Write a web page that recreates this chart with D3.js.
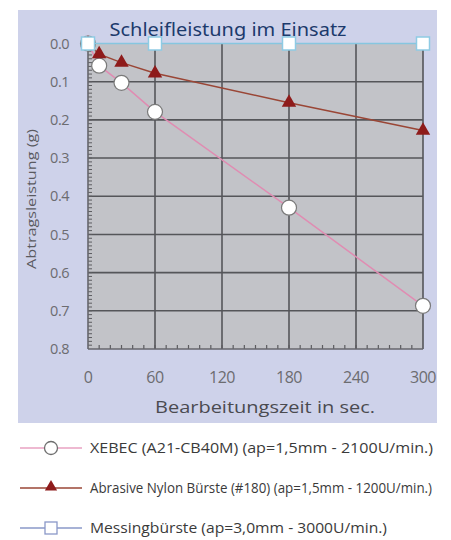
<!DOCTYPE html>
<html>
<head>
<meta charset="utf-8">
<script src="https://cdn.jsdelivr.net/npm/d3@7"></script>
<style>
  html, body { margin: 0; padding: 0; background: #ffffff; }
  svg { display: block; }
</style>
</head>
<body>
<svg id="chart" width="451" height="540"></svg>
<script>
// ---- data ----
const titleText = "Schleifleistung im Einsatz";
const xAxisTitle = "Bearbeitungszeit in sec.";
const yAxisTitle = "Abtragsleistung (g)";
const xTicks = [0, 60, 120, 180, 240, 300];
const yTicks = [0.0, 0.1, 0.2, 0.3, 0.4, 0.5, 0.6, 0.7, 0.8];
const times = [0, 10, 30, 60, 180, 300];
const xebec = [0, 0.058, 0.103, 0.179, 0.43, 0.687];
const nylon = [0, 0.028, 0.05, 0.078, 0.155, 0.228];
const messingTimes = [0, 60, 180, 300];
const messing = [0, 0, 0, 0];
const legendLabels = [
  "XEBEC (A21-CB40M) (ap=1,5mm - 2100U/min.)",
  "Abrasive Nylon Bürste (#180) (ap=1,5mm - 1200U/min.)",
  "Messingbürste  (ap=3,0mm - 3000U/min.)"
];

// ---- layout ----
const svg = d3.select("#chart");
const panel = {x0: 18, y0: 10, x1: 437, y1: 423};
const x = d3.scaleLinear().domain([0, 300]).range([88, 423]);
const y = d3.scaleLinear().domain([0, 0.8]).range([43.5, 349]);

svg.append("defs").append("clipPath").attr("id", "panelClip")
  .append("rect").attr("x", panel.x0).attr("y", panel.y0)
  .attr("width", panel.x1 - panel.x0).attr("height", panel.y1 - panel.y0);

svg.append("rect").attr("x", panel.x0).attr("y", panel.y0)
  .attr("width", panel.x1 - panel.x0).attr("height", panel.y1 - panel.y0)
  .attr("fill", "#ced2ea");

const g = svg.append("g").attr("clip-path", "url(#panelClip)");

// plot background
g.append("rect").attr("x", x(0)).attr("y", y(0))
  .attr("width", x(300) - x(0)).attr("height", y(0.8) - y(0))
  .attr("fill", "#c2c3c8");

// gridlines
g.append("g").selectAll("line").data(yTicks.slice(1, -1)).join("line")
  .attr("x1", x(0)).attr("x2", x(300))
  .attr("y1", d => y(d)).attr("y2", d => y(d))
  .attr("stroke", "#55565a").attr("stroke-width", 1.6);
g.append("g").selectAll("line").data(xTicks.slice(1)).join("line")
  .attr("y1", y(0)).attr("y2", y(0.8))
  .attr("x1", d => x(d)).attr("x2", d => x(d))
  .attr("stroke", "#55565a").attr("stroke-width", 1.6);

// minor ticks
g.append("g").selectAll("line").data(d3.range(1, 80)).join("line")
  .attr("x1", x(0)).attr("x2", x(0) + 4)
  .attr("y1", d => y(d / 100)).attr("y2", d => y(d / 100))
  .attr("stroke", "#5c5c60").attr("stroke-width", 1);
g.append("g").selectAll("line").data(d3.range(1, 30)).join("line")
  .attr("y1", y(0.8)).attr("y2", y(0.8) - 4)
  .attr("x1", d => x(d * 10)).attr("x2", d => x(d * 10))
  .attr("stroke", "#5c5c60").attr("stroke-width", 1.2);

// axis lines
g.append("line").attr("x1", x(0)).attr("x2", x(0)).attr("y1", y(0)).attr("y2", y(0.8))
  .attr("stroke", "#66666c").attr("stroke-width", 1.6);
g.append("line").attr("x1", x(0)).attr("x2", x(300)).attr("y1", y(0.8)).attr("y2", y(0.8))
  .attr("stroke", "#66666c").attr("stroke-width", 1.6);

// tick labels
g.append("g").selectAll("text").data(yTicks).join("text")
  .attr("x", 69).attr("y", d => y(d)).attr("dy", "0.36em")
  .attr("text-anchor", "end")
  .attr("font-family", "Open Sans").attr("font-size", 14.5)
  .attr("fill", "#6c6c70").attr("letter-spacing", -0.5)
  .text(d => d3.format(".1f")(d));
g.append("g").selectAll("text").data(xTicks).join("text")
  .attr("x", d => x(d)).attr("y", 377).attr("dy", "0.36em")
  .attr("text-anchor", "middle")
  .attr("font-family", "Open Sans").attr("font-size", 16)
  .attr("fill", "#6c6c70").attr("letter-spacing", -0.5)
  .text(d => d);

// axis titles
g.append("text").attr("x", 265).attr("y", 413)
  .attr("text-anchor", "middle")
  .attr("font-family", "Open Sans").attr("font-size", 16)
  .attr("fill", "#4a4a50")
  .attr("textLength", 220).attr("lengthAdjust", "spacingAndGlyphs")
  .text(xAxisTitle);
g.append("text").attr("transform", "translate(36,199) rotate(-90)")
  .attr("text-anchor", "middle")
  .attr("font-family", "Open Sans").attr("font-size", 13)
  .attr("fill", "#5a5a60")
  .attr("textLength", 140).attr("lengthAdjust", "spacingAndGlyphs")
  .text(yAxisTitle);

// series
const line = d3.line().x(d => x(d[0])).y(d => y(d[1]));
const xebecPts = times.map((t, i) => [t, xebec[i]]);
const nylonPts = times.map((t, i) => [t, nylon[i]]);
const messingPts = messingTimes.map((t, i) => [t, messing[i]]);

g.append("path").datum(xebecPts).attr("d", line)
  .attr("fill", "none").attr("stroke", "#e08cb2").attr("stroke-width", 1.5);
g.append("g").selectAll("circle").data(xebecPts).join("circle")
  .attr("cx", d => x(d[0])).attr("cy", d => y(d[1])).attr("r", 7.5)
  .attr("fill", "#ffffff").attr("stroke", "#7a7a7a").attr("stroke-width", 1.2);

g.append("path").datum(nylonPts).attr("d", line)
  .attr("fill", "none").attr("stroke", "#9a4636").attr("stroke-width", 1.5);
const tri = d3.symbol().type(d3.symbolTriangle).size(90);
g.append("g").selectAll("path").data(nylonPts).join("path")
  .attr("transform", d => `translate(${x(d[0])},${y(d[1])})`)
  .attr("d", tri).attr("fill", "#8e1b1b");

g.append("path").datum(messingPts).attr("d", line)
  .attr("fill", "none").attr("stroke", "#86c6e0").attr("stroke-width", 1.5);
g.append("g").selectAll("rect").data(messingPts).join("rect")
  .attr("x", d => x(d[0]) - 6.5).attr("y", d => y(d[1]) - 6.5)
  .attr("width", 13).attr("height", 13)
  .attr("fill", "#ffffff").attr("stroke", "#8fcbe4").attr("stroke-width", 1.5);

// title
svg.append("text").attr("x", 228).attr("y", 36)
  .attr("text-anchor", "middle")
  .attr("font-family", "Noto Sans").attr("font-size", 18.5)
  .attr("fill", "#1c3a6c")
  .attr("textLength", 237).attr("lengthAdjust", "spacingAndGlyphs")
  .text(titleText);

// legend
const legendY = [448, 488, 528];
const legendLine = ["#e8a2c2", "#9a4636", "#8a98c8"];
const legendLen = [343, 342, 297];
const lg = svg.append("g");
legendLabels.forEach((lab, i) => {
  const ly = legendY[i];
  lg.append("line").attr("x1", 20).attr("x2", 82).attr("y1", ly).attr("y2", ly)
    .attr("stroke", legendLine[i]).attr("stroke-width", 1.5);
  if (i === 0) {
    lg.append("circle").attr("cx", 51).attr("cy", ly).attr("r", 6.5)
      .attr("fill", "#fff").attr("stroke", "#6e6e6e").attr("stroke-width", 1.3);
  } else if (i === 1) {
    lg.append("path").attr("transform", `translate(51,${ly - 1})`)
      .attr("d", d3.symbol().type(d3.symbolTriangle).size(65)).attr("fill", "#8e1b1b");
  } else {
    lg.append("rect").attr("x", 45).attr("y", ly - 6).attr("width", 12).attr("height", 12)
      .attr("fill", "#fff").attr("stroke", "#8a98c8").attr("stroke-width", 1.3);
  }
  lg.append("text").attr("x", 90).attr("y", ly).attr("dy", "0.36em")
    .attr("font-family", "Open Sans").attr("font-size", 14)
    .attr("fill", "#3a3a3a")
    .attr("textLength", legendLen[i]).attr("lengthAdjust", "spacingAndGlyphs")
    .text(lab);
});
</script>
</body>
</html>
